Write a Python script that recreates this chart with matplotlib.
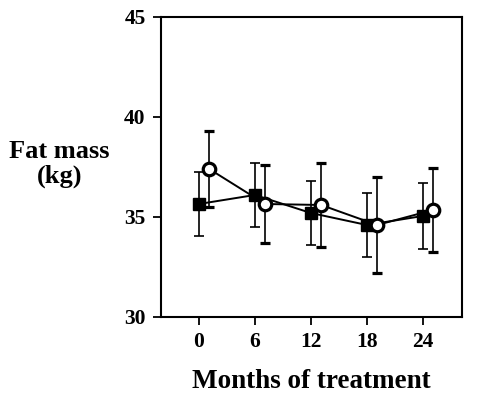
import numpy as np
import matplotlib
matplotlib.use('Agg')
import matplotlib.pyplot as plt

plt.rcParams['font.family'] = ['Liberation Serif', 'DejaVu Serif']
plt.rcParams['font.weight'] = 'bold'

months = [0, 6, 12, 18, 24]
offset = 1.1

# filled squares
sq_mean = [35.65, 36.1, 35.2, 34.6, 35.05]
sq_err = [1.62, 1.62, 1.62, 1.62, 1.65]

# open circles
ci_mean = [37.4, 35.65, 35.6, 34.6, 35.35]
ci_err = [1.88, 1.95, 2.1, 2.4, 2.1]

fig = plt.figure(figsize=(4.81, 3.95), dpi=100)
ax = fig.add_axes([0.3347, 0.1975, 0.6258, 0.7595])

ax.errorbar(months, sq_mean, yerr=sq_err, fmt='s-', color='black',
            markersize=9, linewidth=1.4, elinewidth=1.2, capsize=3.6,
            capthick=1.2, zorder=3)
ax.errorbar(np.array(months) + offset, ci_mean, yerr=ci_err, fmt='o-',
            color='black', markerfacecolor='white', markeredgewidth=2.3,
            markersize=9, linewidth=1.4, elinewidth=1.2, capsize=3.6,
            capthick=1.2, zorder=4)

ax.set_xlim(-4.07, 28.2)
ax.set_ylim(30, 45)
ax.set_xticks(months)
ax.set_yticks([30, 35, 40, 45])
ax.tick_params(direction='out', length=6, width=1.3, labelsize=15.5, pad=5)
for lab in ax.get_xticklabels() + ax.get_yticklabels():
    lab.set_fontweight('bold')
for s in ax.spines.values():
    s.set_linewidth(1.5)

ax.set_xlabel('Months of treatment', fontsize=19.5, fontweight='bold', labelpad=12)
fig.text(0.123, 0.585, 'Fat mass\n(kg)', ha='center', va='center',
         fontsize=19, fontweight='bold', linespacing=1.05)

fig.savefig('out.png', dpi=100)
